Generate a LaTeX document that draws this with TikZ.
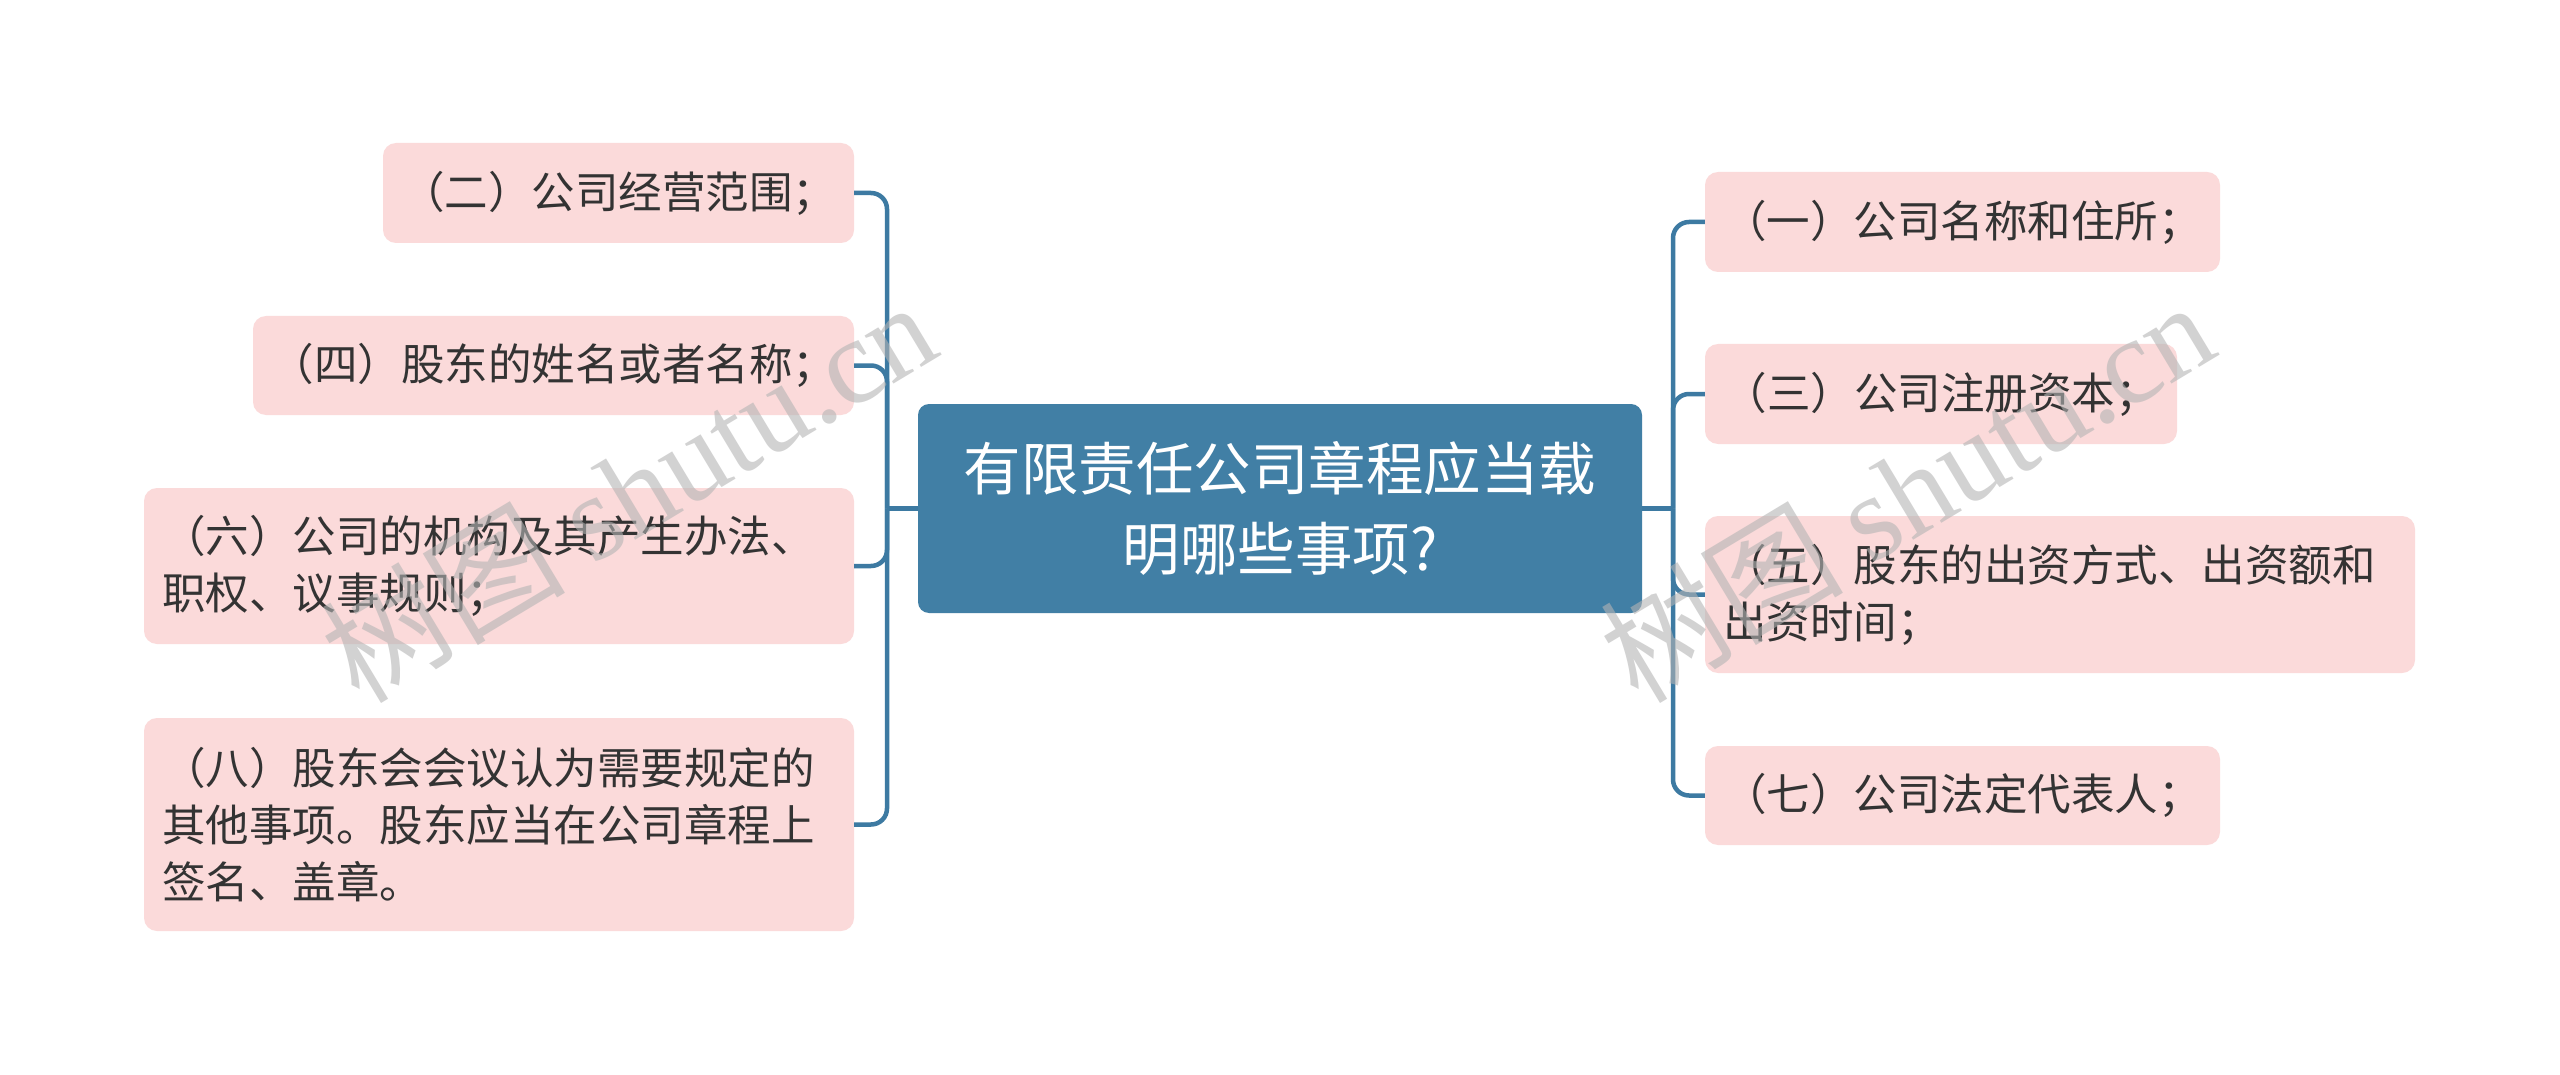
\documentclass[tikz,border=0pt]{standalone}
\usepackage{fontspec}
\setmainfont{Noto Sans CJK SC}
\newfontfamily\wmlatin{Liberation Serif}
\newfontfamily\wmcjk{Noto Sans CJK SC}
\definecolor{mainblue}{HTML}{417FA5}
\definecolor{lineblue}{HTML}{3D7AA2}
\definecolor{pinkfill}{HTML}{FBDADA}
\definecolor{txt}{HTML}{333333}
\definecolor{wmgray}{HTML}{B4B4B4}
\tikzset{
  rootbox/.style={fill=mainblue, rounded corners=11pt, text=white, align=center,
    font=\fontsize{57.5}{80}\selectfont, inner sep=0pt,
    minimum width=724pt, minimum height=209pt},
  leafbox/.style={fill=pinkfill, rounded corners=13pt, text=txt,
    font=\fontsize{43.5}{57}\selectfont, inner sep=0pt},
  onebox/.style={leafbox, align=center},
  multibox/.style={leafbox, align=left, text width=674pt, minimum width=710pt},
  link/.style={draw=lineblue, line width=4.5pt, rounded corners=16pt},
  wm/.style={text=wmgray, opacity=0.6, inner sep=0pt}
}
\begin{document}
\begin{tikzpicture}[x=1pt,y=-1pt]
\useasboundingbox (0,0) rectangle (2560,1075);
\fill[white] (0,0) rectangle (2560,1075);

\node[rootbox] (root) at (1280,508.5) {有限责任公司章程应当载\\明哪些事项?};

% left side
\node[onebox, minimum width=471pt, minimum height=100pt] (n2) at (618.5,193) {（二）公司经营范围；};
\node[onebox, minimum width=601pt, minimum height=99pt] (n4) at (553.5,365.5) {（四）股东的姓名或者名称；};
\node[multibox, minimum height=156pt] (n6) at (499,566) {（六）公司的机构及其产生办法、\\职权、议事规则；};
\node[multibox, minimum height=213pt] (n8) at (499,824.5) {（八）股东会会议认为需要规定的\\其他事项。股东应当在公司章程上\\签名、盖章。};

% right side
\node[onebox, minimum width=515pt, minimum height=100pt] (n1) at (1962.5,222) {（一）公司名称和住所；};
\node[onebox, minimum width=472pt, minimum height=100pt] (n3) at (1941,394) {（三）公司注册资本；};
\node[multibox, minimum height=157pt] (n5) at (2060,594.5) {（五）股东的出资方式、出资额和\\出资时间；};
\node[onebox, minimum width=515pt, minimum height=99pt] (n7) at (1962.5,795.5) {（七）公司法定代表人；};

% connectors
\coordinate (lj) at (887,508.5);
\coordinate (rj) at (1673,508.5);
\draw[link] (root.west) -- (lj);
\draw[link] (root.east) -- (rj);
\foreach \n in {n2,n4,n6,n8} { \draw[link] (lj) |- (\n.east); }
\foreach \n in {n1,n3,n5,n7} { \draw[link] (rj) |- (\n.west); }

% watermarks
\node[wm, rotate=31, anchor=base] (wm1) at (652,530) {\fontsize{122}{122}\selectfont\wmcjk 树图 \wmlatin shutu.cn};
\node[wm, rotate=31, anchor=base] (wm2) at (1930,530) {\fontsize{122}{122}\selectfont\wmcjk 树图 \wmlatin shutu.cn};
\end{tikzpicture}
\end{document}
